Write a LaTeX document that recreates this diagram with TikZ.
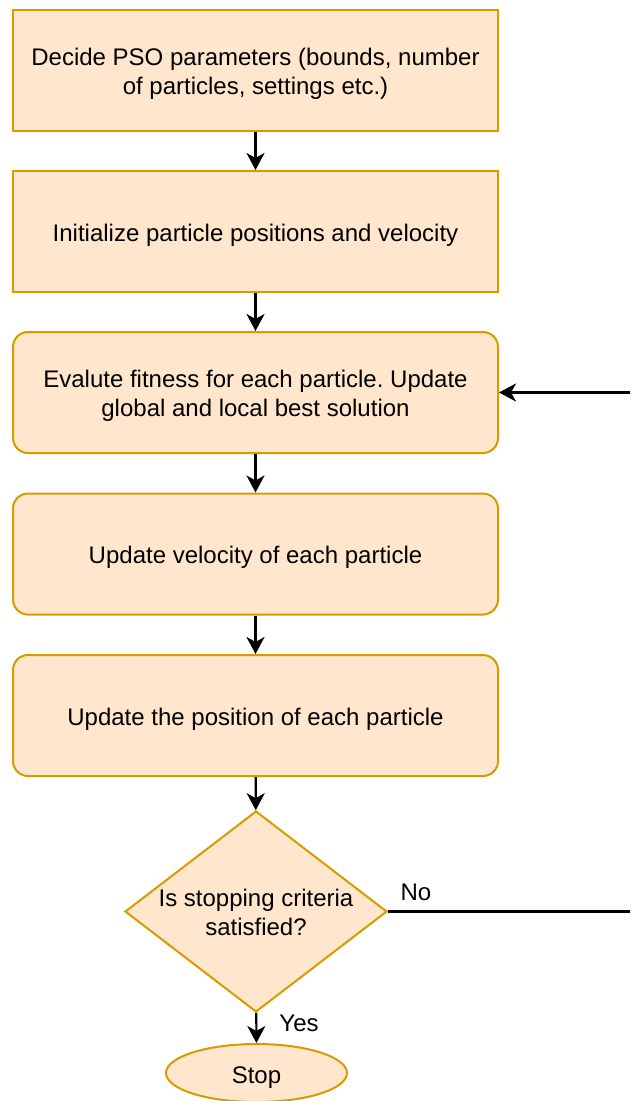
\documentclass[tikz,border=0pt]{standalone}
\usepackage{fontspec}
\setmainfont{Liberation Sans}
\frenchspacing
\usetikzlibrary{shapes.geometric,arrows.meta}
\definecolor{boxfill}{HTML}{FFE6CC}
\definecolor{boxline}{HTML}{D79B00}
\begin{document}
\begin{tikzpicture}[x=1pt,y=-1pt,
  font=\fontsize{24}{29}\selectfont,
  stepbox/.style={draw=boxline,fill=boxfill,line width=2pt,minimum width=485pt,
    minimum height=121pt,inner sep=0pt},
  roundbox/.style={stepbox,rounded corners=15pt},
  decision/.style={diamond,draw=boxline,fill=boxfill,line width=2pt,
    minimum width=262pt,minimum height=201pt,inner sep=0pt},
  terminal/.style={ellipse,draw=boxline,fill=boxfill,line width=2pt,
    minimum width=181pt,minimum height=58pt,inner sep=0pt},
  boxtext/.style={align=center,inner sep=0pt,yshift=-3.5pt},
  flow/.style={draw=black,line width=2.2pt,-{Stealth[length=17pt,width=18pt,inset=5pt]}}
]
\useasboundingbox (0,0) rectangle (630,1101);
\clip (0,0) rectangle (630,1101);

% process steps
\node[stepbox]  (decide) at (255.5,70.5)  {};
\node[stepbox]  (init)   at (255.5,231.5) {};
\node[roundbox] (eval)   at (255.5,392.5) {};
\node[roundbox] (vel)    at (255.5,554)   {};
\node[roundbox] (pos)    at (255.5,715.5) {};
\node[boxtext] (decidetext) at (decide.center) {Decide PSO parameters (bounds, number\\of particles, settings etc.)};
\node[boxtext] (inittext)   at (init.center)   {Initialize particle positions and velocity};
\node[boxtext] (evaltext)   at (eval.center)   {Evalute fitness for each particle. Update\\global and local best solution};
\node[boxtext] (veltext)    at (vel.center)    {Update velocity of each particle};
\node[boxtext] (postext)    at (pos.center)    {Update the position of each particle};

% decision and end
\node[decision] (check) at (256,911.5) {};
\node[boxtext,yshift=3pt] (checktext) at (check.center) {Is stopping criteria\\satisfied?};
\node[terminal] (stop) at (256.5,1073) {};
\node[boxtext,yshift=-1pt] (stoptext) at (stop.center) {Stop};

% connectors
\draw[flow] (decide) -- (init);
\draw[flow] (init) -- (eval);
\draw[flow] (eval) -- (vel);
\draw[flow] (vel) -- (pos);
\draw[flow] (pos) -- (check);
\draw[flow] (check) -- (stop);
\draw[flow] (check.east) -- (660,911.5) |- (eval.east);

% branch labels
\node (nolabel)  at (416,892)  {No};
\node (yeslabel) at (299,1023) {Yes};
\end{tikzpicture}
\end{document}
